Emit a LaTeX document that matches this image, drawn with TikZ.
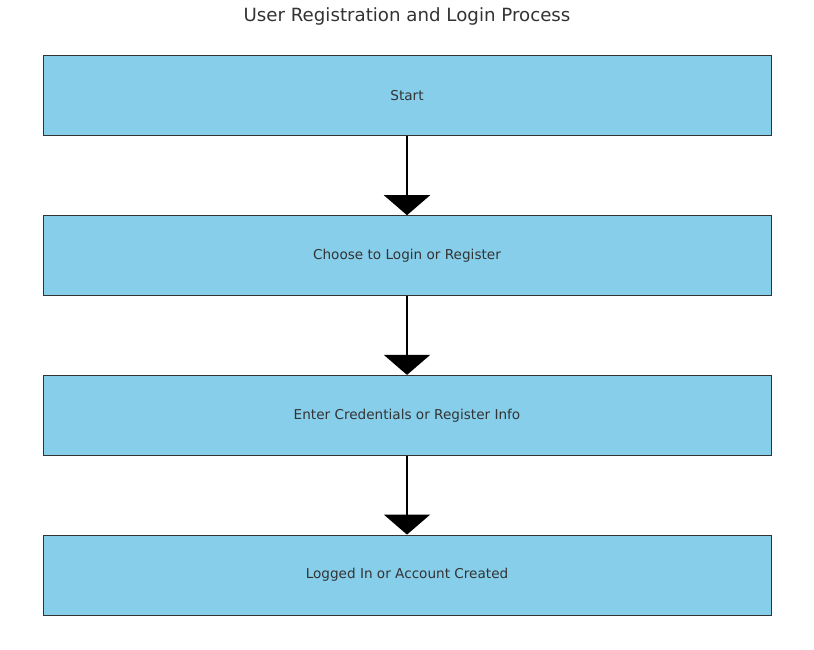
\documentclass[tikz,border=0pt]{standalone}
\usepackage{fontspec}
\setmainfont{DejaVu Sans}
\usetikzlibrary {arrows.meta, positioning}
\definecolor{skyfill}{HTML}{87CEEB}
\definecolor{inkgrey}{HTML}{333333}

\begin{document}
\begin{tikzpicture}[x=1pt,y=-1pt,node distance=159.7pt,on grid,>={Triangle[width=46pt,length=20pt]},
      flowbox/.style={draw=inkgrey,line width=1pt,fill=skyfill,minimum width=728pt,minimum height=80pt,
        inner sep=0pt,text=inkgrey,font=\fontsize{13.6pt}{16pt}\selectfont}]
      \useasboundingbox (0,0) rectangle (814,650);
      \node[text=inkgrey,font=\fontsize{18.2pt}{22pt}\selectfont] (title) at (407,16) {User Registration and Login Process};
      \node[flowbox] (start) at (407,96) {Start};
      \node[flowbox] (choose) [below=of start] {Choose to Login or Register};
      \node[flowbox] (enter) [below=of choose] {Enter Credentials or Register Info};
      \node[flowbox] (done) [below=of enter] {Logged In or Account Created};
      \path[->,line width=2pt] (start) edge (choose)
                               (choose) edge (enter)
                               (enter) edge (done);
    \end{tikzpicture}
\end{document}
